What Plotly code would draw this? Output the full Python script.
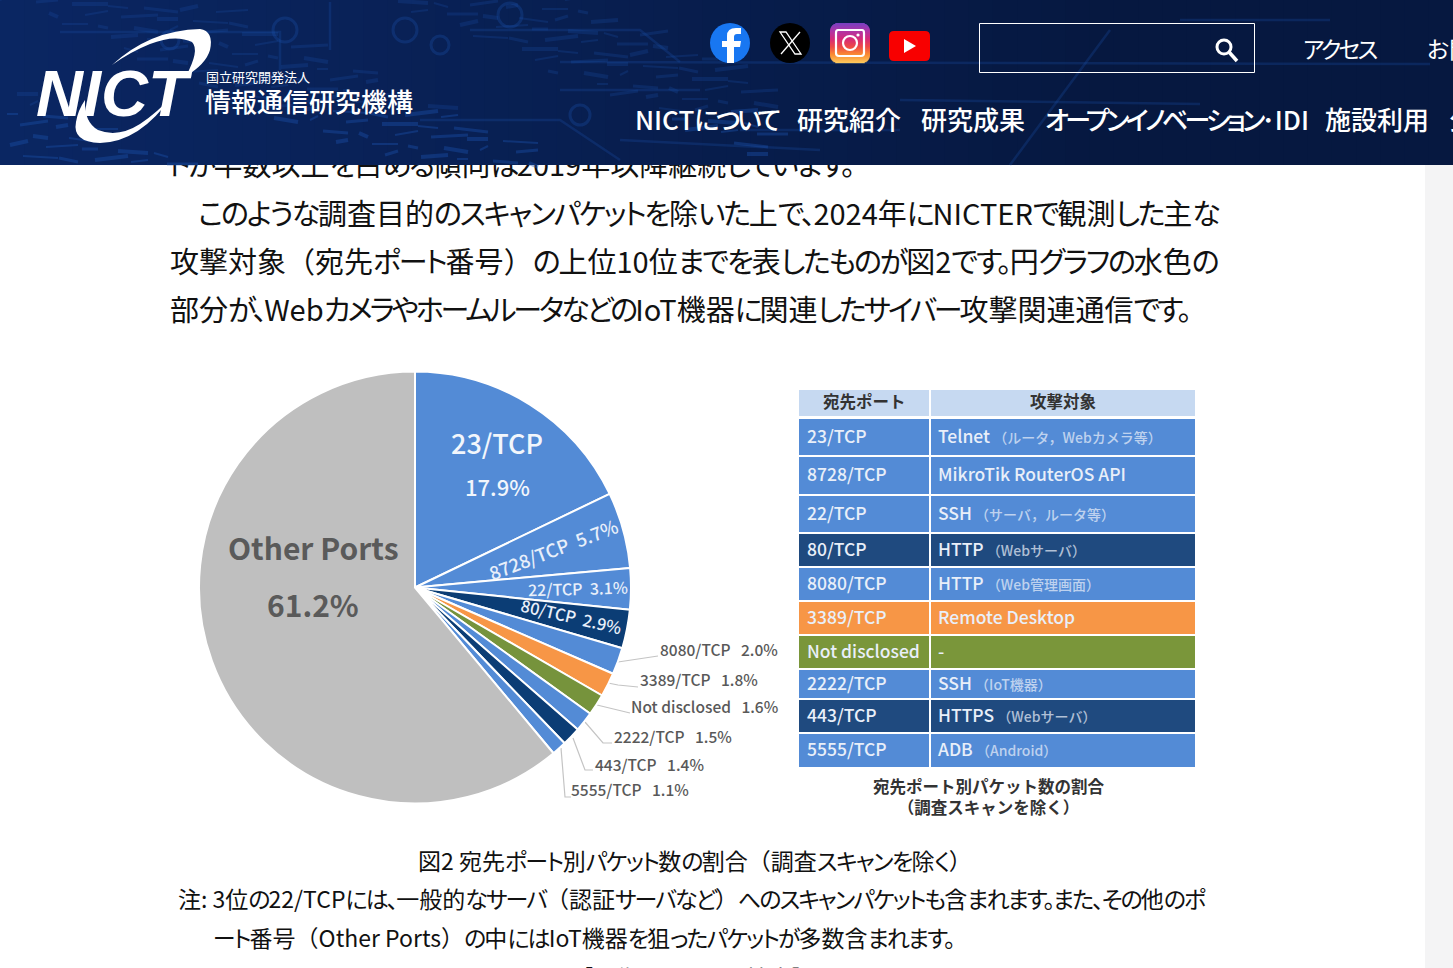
import math
import re
import plotly.graph_objects as go

W, H = 1453, 968
FONT = "Noto Sans CJK JP"

# ---------- data ----------
ports = ["23/TCP", "8728/TCP", "22/TCP", "80/TCP", "8080/TCP", "3389/TCP",
         "Not disclosed", "2222/TCP", "443/TCP", "5555/TCP", "Other Ports"]
shares = [17.9, 5.7, 3.1, 2.9, 2.0, 1.8, 1.6, 1.5, 1.4, 1.1, 61.2]
slice_colors = ["#538bd6", "#538bd6", "#538bd6", "#0b3d75", "#538bd6", "#f79646",
                "#76933c", "#538bd6", "#0b3d75", "#538bd6", "#bfbfbf"]
targets = ["Telnet", "MikroTik RouterOS API", "SSH", "HTTP", "HTTP",
           "Remote Desktop", "-", "SSH", "HTTPS", "ADB"]
target_notes = ["（ルータ，Webカメラ等）", "", "（サーバ，ルータ等）", "（Webサーバ）", "（Web管理画面）",
                "", "", "（IoT機器）", "（Webサーバ）", "（Android）"]
row_colors = ["#538bd6", "#538bd6", "#538bd6", "#1f4a7f", "#538bd6", "#f79646",
              "#7a963a", "#538bd6", "#1f4a7f", "#538bd6"]
table_headers = ["宛先ポート", "攻撃対象"]
table_caption = ["宛先ポート別パケット数の割合", "（調査スキャンを除く）"]

clipped_line = "トが半数以上を占める傾向は2019年以降継続しています。"
body_lines = ["このような調査目的のスキャンパケットを除いた上で、2024年にNICTERで観測した主な",
              "攻撃対象（宛先ポート番号）の上位10位までを表したものが図2です。円グラフの水色の",
              "部分が、WebカメラやホームルータなどのIoT機器に関連したサイバー攻撃関連通信です。"]
nav_items = ["NICTについて", "研究紹介", "研究成果", "オープンイノベーション･IDI", "施設利用", "公募情報"]
fig_caption = "図2 宛先ポート別パケット数の割合（調査スキャンを除く）"
note_lines = ["注: 3位の22/TCPには、一般的なサーバ（認証サーバなど）へのスキャンパケットも含まれます。また、その他のポ",
              "ート番号（Other Ports）の中にはIoT機器を狙ったパケットが多数含まれます。"]
enlarge = "［画像クリックで拡大］"

# ---------- layout geometry ----------
row_tops = [419, 457, 496, 534, 568, 602, 636, 670, 700, 734]
row_bottoms = [455, 494, 532, 566, 600, 634, 668, 698, 732, 767]
outer_label_pos = [(660, 651), (640, 681), (631, 708), (614, 738), (595, 766), (571, 791)]
leaders = [[(618, 662), (658, 656)],
           [(608, 683), (618, 685), (638, 687)],
           [(597, 705), (630, 713)],
           [(585, 722), (603, 743), (612, 743)],
           [(573, 738), (585, 770), (593, 770)],
           [(561, 748), (565, 797), (571, 797)]]

shapes, annos = [], []
PALT = "font-feature-settings:'palt';"


def fit(s, kana_ls=0.0):
    """Meiryo-like setting: narrow kana, full-width brackets."""
    out = []
    for run in re.findall(r"[\u3040-\u30ff、。，]+|[（）［］]+|[^\u3040-\u30ff、。，（）［］]+", s):
        if run[0] in "（）［］":
            out.append(f"<span>{run}</span>")
        elif re.match(r"[\u3040-\u30ff、。，]", run):
            out.append(f'<span style="{PALT}letter-spacing:{kana_ls}px">{run}</span>')
        else:
            out.append(f'<span style="{PALT}">{run}</span>')
    return "".join(out)


def txt(x, y, s, size, color="#000", anchor="left", weight=400, angle=0, family=FONT, yanchor="middle"):
    # plotly pads annotation boxes: compensate so x, y are the visible glyph position
    dx = -2 if anchor == "left" else 0
    annos.append(dict(x=x + dx, y=y - 2, xref="x", yref="y", text=s, showarrow=False,
                      xanchor=anchor, yanchor=yanchor, textangle=angle,
                      font=dict(family=family, size=size, color=color, weight=weight)))


def rect(x0, y0, x1, y1, fill, layer="above", line=None, lw=0, op=1):
    shapes.append(dict(type="rect", x0=x0, y0=y0, x1=x1, y1=y1, xref="x", yref="y", layer=layer,
                       fillcolor=fill, opacity=op, line=dict(color=line or "rgba(0,0,0,0)", width=lw)))


def path(d, fill=None, line=None, lw=0, layer="above", op=1):
    shapes.append(dict(type="path", path=d, xref="x", yref="y", layer=layer, opacity=op,
                       fillcolor=fill or "rgba(0,0,0,0)", line=dict(color=line or "rgba(0,0,0,0)", width=lw)))


def circle(cx, cy, r, fill=None, line=None, lw=0, op=1):
    shapes.append(dict(type="circle", x0=cx - r, x1=cx + r, y0=cy - r, y1=cy + r, xref="x", yref="y",
                       layer="above", opacity=op, fillcolor=fill or "rgba(0,0,0,0)",
                       line=dict(color=line or "rgba(0,0,0,0)", width=lw)))


# ---------- page background ----------
rect(1425, 165, W, H, "#f4f4f5", layer="below")

# ---------- header ----------
def lerp(a, b, t):
    return tuple(round(a[i] + (b[i] - a[i]) * t) for i in range(3))

BANDS = 60
for i in range(BANDS):
    t = i / (BANDS - 1)
    c = lerp((10, 38, 98), (6, 24, 64), min(1, t * 1.3))
    rect(i * W / BANDS, 0, (i + 1) * W / BANDS + 1, 165, "rgb(%d,%d,%d)" % c)

# blotchy circuit texture of the header photograph
for k in range(170):
    x = (k * 137) % 760
    y = (k * 59) % 165
    length = 8 + (k * 23) % 30
    rise = ((k * 7) % 5 - 2) * 2
    bright = 0.42 if y > 110 else 0.25
    path(f"M{x} {y} L{x + length} {y + rise}", line="#1a4fa8", lw=2 + k % 3, op=bright)
circuit = ["M60 32 L280 32 L280 70", "M560 62 L1430 64", "M470 30 L640 30 L680 62",
           "M420 120 L560 120 L620 160", "M900 100 L1200 104", "M330 2 L330 50",
           "M1010 165 L1110 30", "M740 130 L900 130", "M560 90 L700 90", "M1180 20 L1330 20", "M620 140 L820 150"]
for d in circuit:
    path(d, line="#1a4fa8", lw=2.5, op=0.28)
for cx, cy, r in [(285, 30, 12), (405, 30, 12), (510, 15, 12), (170, 40, 9), (580, 115, 10), (440, 45, 9)]:
    circle(cx, cy, r, line="#1a4fa8", lw=3, op=0.32)

# logo
path("M112 65 Q150 30 200 29 Q214 31 210 50 Q206 64 186 76 Q200 50 192 42 Q175 34 150 44 Q130 52 112 65 Z", fill="#fff")
path("M172 96 Q140 142 100 143 Q72 142 76 122 Q78 110 85 100 Q84 122 98 130 Q118 138 140 124 Q158 112 172 96 Z", fill="#fff")
txt(36, 95, "<b><i>NICT</i></b>", 65, "#fff", family="Liberation Sans")
txt(206, 78, "国立研究開発法人", 13, "#fff")
txt(205, 102, "情報通信研究機構", 26, "#fff", weight=500)

# social icons
circle(730, 43, 20, fill="#1877f2")
path("M727 63 L727 47 L722 47 L722 41 L727 41 L727 36 Q727 28 736 28 L741 28 L741 34 L737 34 Q734 34 734 37 L734 41 L741 41 L740 47 L734 47 L734 63 Z", fill="#fff")
circle(790, 43, 20, fill="#000")
path("M780 32 L786 32 L801 54 L795 54 Z", line="#fff", lw=1.3)
path("M800 32 L781 54", line="#fff", lw=1.3)
ig_stops = [(122, 63, 192), (176, 52, 165), (214, 42, 120), (238, 74, 69), (250, 140, 50), (253, 198, 90)]
IG_R = 8
for i in range(40):
    f = i / 39 * (len(ig_stops) - 1)
    j = min(int(f), len(ig_stops) - 2)
    col = lerp(ig_stops[j], ig_stops[j + 1], f - j)
    d = min(i + 0.5, 39.5 - i)
    inset = IG_R - math.sqrt(IG_R ** 2 - (IG_R - d) ** 2) if d < IG_R else 0
    rect(830 + inset, 23 + i, 870 - inset, 24.2 + i, "rgb(%d,%d,%d)" % col)
path("M838 30 L862 30 Q864 30 864 33 L864 53 Q864 56 861 56 L839 56 Q836 56 836 53 L836 33 Q836 30 838 30 Z", line="#fff", lw=2.2)
circle(850, 43, 7, line="#fff", lw=2.2)
circle(858, 35, 1.6, fill="#fff")
path("M894 31 L925 31 Q930 31 930 36 L930 56 Q930 61 925 61 L894 61 Q889 61 889 56 L889 36 Q889 31 894 31 Z", fill="#f80000")
path("M904 39 L916 46 L904 53 Z", fill="#fff")

# search
rect(979.5, 23.5, 1254.5, 72.5, "rgba(0,0,0,0)", line="#fff", lw=1)
circle(1224, 47, 7, line="#fff", lw=3)
path("M1229 52 L1237 61", line="#fff", lw=3.5)

txt(1303, 50, fit("アクセス", -2.7), 23, "#fff")
txt(1427, 50, fit("お問い合わせ", 0), 23, "#fff")
for x, s, ls in zip([635, 797, 921, 1045, 1325, 1449], nav_items, [-3.4, 0, 0, -3.6, 0, 0]):
    txt(x, 120, fit(s, ls), 26, "#fff", weight=500)

# ---------- body text ----------
for y, x, s, ls in zip([214, 262, 310], [198, 170, 170], body_lines, [-2.2, -2.1, -3.1]):
    txt(x, y, fit(s, ls), 29, "#111")
txt(695, 862, fit(fig_caption, -1.6), 23, "#111", anchor="center")
txt(178, 900, fit(note_lines[0], -1.95), 23, "#111")
txt(213, 939, fit(note_lines[1], -1.9), 23, "#111")
txt(692, 960, fit(enlarge, 1.5), 23, "#111", anchor="center", yanchor="top")

# ---------- leader lines ----------
for pts in leaders:
    d = "M" + " L".join(f"{x} {y}" for x, y in pts)
    path(d, line="#c4c4c4", lw=1.2, layer="below")

# ---------- pie labels ----------
NB = "\u00a0"
txt(497, 444, ports[0], 27, "#f2f6fc", anchor="center", weight=500)
txt(497, 488, f"{shares[0]:.1f}%", 22, "#f2f6fc", anchor="center", weight=500)
txt(553, 551, f"{ports[1]}{NB}{NB}{shares[1]:.1f}%", 18.5, "#e8effa", anchor="center", angle=-21, weight=500)
txt(578, 590, f"{ports[2]}{NB}{NB}{shares[2]:.1f}%", 16, "#e8effa", anchor="center", angle=-1.5, weight=500)
txt(571, 618, f"{ports[3]}{NB}{NB}{shares[3]:.1f}%", 16.5, "#e8effa", anchor="center", angle=13, weight=500)
for (x, y), p, v in zip(outer_label_pos, ports[4:10], shares[4:10]):
    txt(x, y, f"{p}{NB}{NB}{NB}{v:.1f}%", 15.5, "#595959", weight=500)
txt(313, 549, ports[10], 30, "#5a5a5a", anchor="center", weight=700)
txt(313, 606, f"{shares[10]:.1f}%", 30, "#5a5a5a", anchor="center", weight=700)

# ---------- table ----------
COLS = [(799, 929), (931, 1195)]
for (x0, x1), h in zip(COLS, table_headers):
    rect(x0, 390, x1, 416, "#c6d9f1", layer="below")
    txt((x0 + x1) / 2, 403, h, 16.5, "#333", anchor="center", weight=700)
for top, bot, c, p, t, n in zip(row_tops, row_bottoms, row_colors, ports, targets, target_notes):
    for x0, x1 in COLS:
        rect(x0, top, x1, bot, c, layer="below")
    mid = (top + bot) / 2
    txt(807, mid, p, 17.5, "#e9eff9", weight=500)
    note = f'<span style="font-size:14px;fill-opacity:0.72">{NB}{n}</span>' if n else ""
    txt(938, mid, t + note, 17.5, "#e9eff9", weight=500)
txt(989, 798, table_caption[0] + "<br>" + table_caption[1], 16.5, "#333", anchor="center", weight=700)

# ---------- figure ----------
fig = go.Figure()
fig.add_trace(go.Pie(labels=ports, values=shares, sort=False, direction="clockwise", rotation=0,
                     marker=dict(colors=slice_colors, line=dict(color="#fff", width=2)),
                     textinfo="none", hoverinfo="label+percent", showlegend=False,
                     domain=dict(x=[199 / W, 631 / W], y=[1 - 804 / H, 1 - 371 / H])))
# line cut off by the header: a text trace drawn underneath the header shapes
fig.add_trace(go.Scatter(x=[168], y=[169], mode="text", text=[fit(clipped_line, -2.6)], textposition="middle right",
                         textfont=dict(family=FONT, size=29, color="#111"), showlegend=False, hoverinfo="skip"))
fig.update_layout(width=W, height=H, margin=dict(l=0, r=0, t=0, b=0),
                  paper_bgcolor="#fff", plot_bgcolor="#fff", shapes=shapes, annotations=annos,
                  xaxis=dict(range=[0, W], visible=False, fixedrange=True),
                  yaxis=dict(range=[H, 0], visible=False, fixedrange=True))
fig.write_html("out.html", config={"displayModeBar": False},
               post_script="document.body.style.margin='0';document.body.style.overflow='hidden';")
